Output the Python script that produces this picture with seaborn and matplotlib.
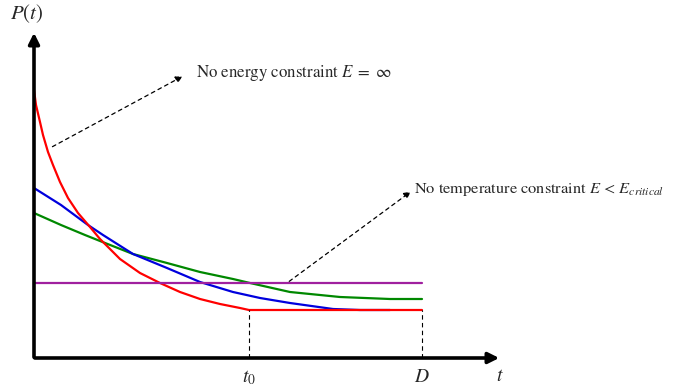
import seaborn as sns
import pandas as pd
import matplotlib.pyplot as plt

# curves (t, P)
red_t = [0, 2, 6, 9, 14, 19, 26, 34, 44, 56, 66, 86, 106, 126, 146, 166, 186, 206, 215, 388]
red_p = [268, 253, 236, 223, 206, 193, 176, 160, 145, 131, 119, 99, 85, 75, 66, 59, 54, 50, 48, 48]
blue_t = [0, 27, 54, 69, 99, 133, 166, 199, 226, 256, 299, 326, 356]
blue_p = [170, 153, 133, 123, 104, 90, 76, 66, 60, 55, 49, 48, 48]
green_t = [0, 27, 51, 66, 99, 133, 166, 199, 216, 256, 306, 356, 388]
green_p = [145, 133, 123, 117, 104, 95, 86, 79, 75, 66, 61, 59, 59]
purple_t = [0, 388]
purple_p = [75, 75]

t0 = 215
D = 388
p_floor = 48

sns.set_style('white')
plt.rcParams['font.family'] = ['STIXGeneral', 'DejaVu Serif']
plt.rcParams['mathtext.fontset'] = 'stix'

df = pd.concat([
    pd.DataFrame({'t': green_t, 'P': green_p, 'curve': 'green'}),
    pd.DataFrame({'t': blue_t, 'P': blue_p, 'curve': 'blue'}),
    pd.DataFrame({'t': red_t, 'P': red_p, 'curve': 'red'}),
    pd.DataFrame({'t': purple_t, 'P': purple_p, 'curve': 'purple'}),
])
pal = {'red': '#ff0000', 'blue': '#0000dd', 'green': '#008800', 'purple': '#a0209f'}

fig = plt.figure(figsize=(6.73, 3.9), dpi=100)
ax = fig.add_axes([0, 0, 1, 1])
sns.lineplot(data=df, x='t', y='P', hue='curve', palette=pal, sort=False,
             estimator=None, linewidth=1.6, legend=False, ax=ax)
ax.set_xlim(-34, 639)
ax.set_ylim(-32, 358)
ax.axis('off')

# axes with arrows
ax.annotate('', xy=(468, 0), xytext=(-2, 0),
            arrowprops=dict(arrowstyle='-|>', lw=2.6, color='k', mutation_scale=16))
ax.annotate('', xy=(0, 328), xytext=(0, -2),
            arrowprops=dict(arrowstyle='-|>', lw=2.6, color='k', mutation_scale=16))

# dashed drops
ax.plot([t0, t0], [0, p_floor], ls=(0, (4, 3)), lw=0.8, color='k')
ax.plot([D, D], [0, p_floor], ls=(0, (4, 3)), lw=0.8, color='k')

# annotations
ax.annotate('', xy=(151, 283), xytext=(16, 210),
            arrowprops=dict(arrowstyle='-|>', lw=0.9, ls=(0, (3, 3)), color='k', mutation_scale=10))
ax.text(162, 285, r'No energy constraint $E\;=\;\infty$', fontsize=12.2, va='center', ha='left')
ax.annotate('', xy=(379, 168), xytext=(253, 75),
            arrowprops=dict(arrowstyle='-|>', lw=0.9, ls=(0, (3, 3)), color='k', mutation_scale=10))
ax.text(380, 168, r'No temperature constraint $E\,<\,E_{critical}$', fontsize=11.8,
        va='center', ha='left')

ax.text(-7, 344, r'$P(t)$', fontsize=15, ha='center', va='center')
ax.text(466, -18, r'$t$', fontsize=14, ha='center', va='center')
ax.text(t0, -20, r'$t_0$', fontsize=14, ha='center', va='center')
ax.text(D, -19, r'$D$', fontsize=14, ha='center', va='center')

fig.savefig('out.png', dpi=100)
